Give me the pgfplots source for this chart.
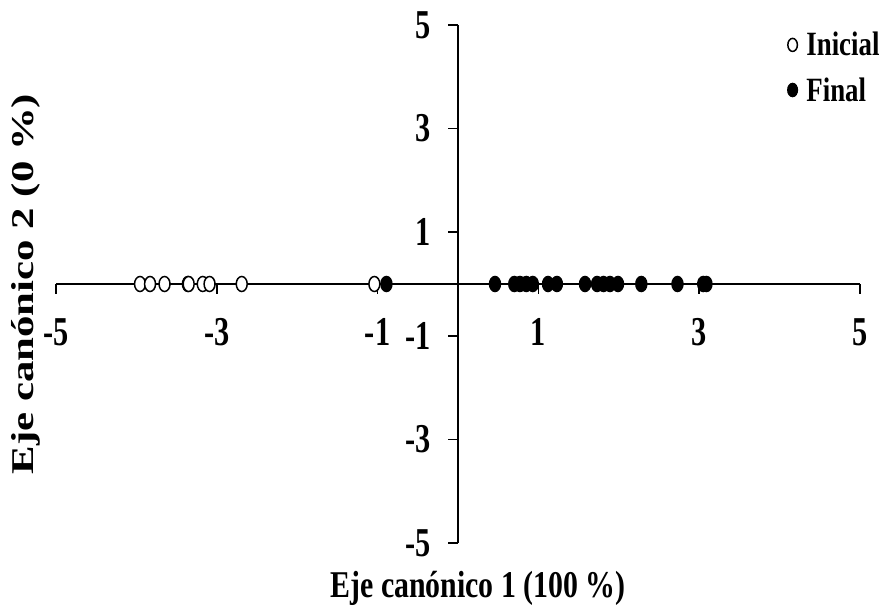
\documentclass[border=0pt]{standalone}
\usepackage{pgfplots}
\pgfplotsset{compat=1.18}
\usepackage{fontspec}
\setmainfont{Liberation Serif}[FakeStretch=0.79]
\newfontfamily\tfont{Liberation Serif}[FakeStretch=0.74]
\newfontfamily\vfont{Liberation Serif}[FakeStretch=1.35]

\begin{document}
\begin{tikzpicture}
\useasboundingbox (-56pt,-64pt) rectangle (828pt,543pt);
\begin{axis}[
  at={(0pt,0pt)}, anchor=south west,
  scale only axis, width=804pt, height=518pt,
  xmin=-5, xmax=5, ymin=-5, ymax=5,
  axis lines=center,
  axis line style={line width=1.6pt},
  every inner x axis line/.append style={-},
  every inner y axis line/.append style={-},
  clip=false,
  xtick={-5,-3,-1,1,3,5}, xticklabels={-5,-3,-1,1,3,5},
  ytick={-5,-3,-1,1,3,5}, yticklabels={-5,-3,-1,1,3,5},
  tick align=outside, major tick length=10pt,
  tick style={line width=1.6pt, black},
  ticklabel style={font=\tfont\fontsize{41}{44}\selectfont\bfseries},
  xticklabel style={anchor=north, yshift=-21pt},
  yticklabel style={anchor=east, xshift=-14pt},
  xlabel={Eje canónico 1 (100 \%)},
  ylabel={Eje canónico 2 (0 \%)},
  xlabel style={at={(axis description cs:0.525,-0.0477)}, anchor=north, font=\fontsize{37.8}{40}\selectfont\bfseries, inner sep=3.33pt},
  ylabel style={at={(axis description cs:-0.037,0.5)}, anchor=center, rotate=90, font=\vfont\fontsize{31.7}{34}\selectfont\bfseries},
  legend style={at={(axis description cs:1.027,0.99)}, anchor=north east, draw=none, fill=none,
    font=\fontsize{34}{36}\selectfont\bfseries, inner sep=0pt, row sep=16pt,
    /tikz/every odd column/.append style={column sep=7pt}},
  legend cell align=left,
  legend image code/.code={\draw[mark repeat=2,mark phase=2,scale=0.87] plot coordinates {(0cm,0cm) (0.2cm,0cm) (0.4cm,0cm)};},
]
\addplot[only marks, mark=*, mark size=7.5pt, mark options={xscale=0.73, fill=white, draw=black, line width=1.5pt}]
  coordinates {(-3.955,0) (-3.83,0) (-3.65,0) (-3.36,0) (-3.35,0) (-3.175,0) (-3.09,0) (-2.69,0) (-1.04,0)};
\addlegendentry{Inicial}
\addplot[only marks, mark=*, mark size=7.5pt, mark options={xscale=0.73, fill=black, draw=black, line width=1.5pt}]
  coordinates {(-0.89,0) (0.46,0) (0.70,0) (0.77,0) (0.85,0) (0.93,0) (1.12,0) (1.23,0) (1.58,0) (1.73,0) (1.81,0) (1.89,0) (1.99,0) (2.28,0) (2.73,0) (3.05,0) (3.09,0)};
\addlegendentry{Final}
\end{axis}
\end{tikzpicture}
\end{document}
